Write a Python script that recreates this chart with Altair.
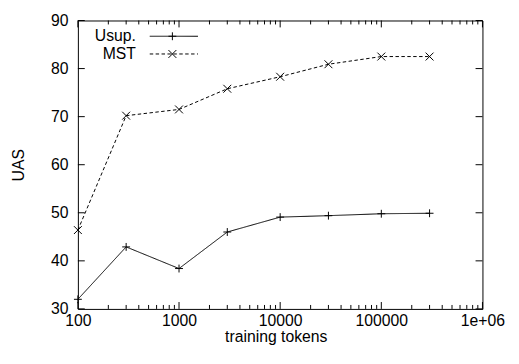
import altair as alt
import pandas as pd

# ---- data ----
tokens = [100, 300, 1000, 3000, 10000, 30000, 100000, 300000]
usup = [32.0, 42.9, 38.4, 46.0, 49.1, 49.4, 49.8, 49.9]
mst = [46.4, 70.2, 71.5, 75.8, 78.3, 80.9, 82.5, 82.5]
series_names = ["Usup.", "MST"]

y_ticks = [30, 40, 50, 60, 70, 80, 90]
x_ticks = [100, 1000, 10000, 100000, 1000000]
x_tick_labels = ["100", "1000", "10000", "100000", "1e+06"]
x_minor = [m * d for d in [100, 1000, 10000, 100000] for m in range(2, 10)]

W, H = 411, 293
FONT = "Liberation Sans"
FS = 16

df = pd.DataFrame({
    "tokens": tokens * 2,
    "uas": usup + mst,
    "series": [series_names[0]] * len(tokens) + [series_names[1]] * len(tokens),
})

xs = alt.Scale(type="log", domain=[100, 1000000], nice=False)
ys = alt.Scale(domain=[30, 90], nice=False, zero=False)

label_expr = "".join(
    f"datum.value == {v} ? '{l}' : " for v, l in zip(x_ticks, x_tick_labels)
) + "''"

dash_scale = alt.Scale(domain=series_names, range=[[1, 0], [3.5, 2.5]])
shape_scale = alt.Scale(
    domain=series_names,
    range=["M-1,0L1,0M0,-1L0,1", "M-1,-1L1,1M-1,1L1,-1"],
)

x_axis = alt.Axis(
    values=x_ticks, labelExpr=label_expr, title="training tokens",
    ticks=False, domain=False, grid=False, labelPadding=4,
    labelFont=FONT, labelFontSize=FS, labelColor="black",
    titleFont=FONT, titleFontSize=FS, titleFontWeight="normal", titleColor="black",
    titleX=201, titleY=33, titleBaseline="alphabetic", titleAlign="center",
    labelFlush=False, labelOverlap=False,
)
y_axis = alt.Axis(
    values=y_ticks, title="UAS",
    ticks=False, domain=False, grid=False, labelPadding=10,
    labelFont=FONT, labelFontSize=FS, labelColor="black",
    titleFont=FONT, titleFontSize=FS, titleFontWeight="normal", titleColor="black",
    titleX=-60, titleY=H / 2, titleBaseline="middle", titleAlign="center", titleAngle=270,
    labelFlush=False, labelOverlap=False,
)

def X(field="tokens"):
    return alt.X(f"{field}:Q", scale=xs, axis=x_axis, title="training tokens")

def Y(field="uas"):
    return alt.Y(f"{field}:Q", scale=ys, axis=y_axis, title="UAS")

lines = alt.Chart(df).mark_line(color="black", strokeWidth=1).encode(
    x=X(), y=Y(),
    strokeDash=alt.StrokeDash("series:N", scale=dash_scale, legend=None),
    detail="series:N",
)

points = alt.Chart(df).mark_point(filled=False, color="black", size=64, strokeWidth=1, opacity=1).encode(
    x=X(), y=Y(),
    shape=alt.Shape("series:N", scale=shape_scale, legend=None),
)

# ---- inward ticks (gnuplot style, mirrored) ----
ydf = pd.DataFrame({"uas": y_ticks})
xdf = pd.DataFrame({"tokens": x_ticks})
xmdf = pd.DataFrame({"tokens": x_minor})

def yrule(x1, x2):
    return alt.Chart(ydf).mark_rule(color="black", strokeWidth=1).encode(
        y=Y(), x=alt.value(x1), x2=alt.value(x2))

def xrule(d, y1, y2):
    return alt.Chart(d).mark_rule(color="black", strokeWidth=1).encode(
        x=X(), y=alt.value(y1), y2=alt.value(y2))

ticks = [
    yrule(0, 7), yrule(W - 7, W),
    xrule(xdf, H - 7, H), xrule(xdf, 0, 7),
    xrule(xmdf, H - 4, H), xrule(xmdf, 0, 4),
]

# ---- legend (top-left, label then sample) ----
leg_y = [16, 34]
leg_layers = []
leg_shapes = ["M-1,0L1,0M0,-1L0,1", "M-1,-1L1,1M-1,1L1,-1"]
leg_dash = [[1, 0], [3.5, 2.5]]
for i, name in enumerate(series_names):
    ld = pd.DataFrame({"series": [name]})
    leg_layers.append(
        alt.Chart(ld).mark_text(align="right", baseline="middle", font=FONT, fontSize=FS, color="black").encode(
            text="series:N", x=alt.value(59), y=alt.value(leg_y[i]))
    )
    leg_layers.append(
        alt.Chart(ld).mark_rule(color="black", strokeWidth=1, strokeDash=leg_dash[i]).encode(
            x=alt.value(73), x2=alt.value(122), y=alt.value(leg_y[i]))
    )
    leg_layers.append(
        alt.Chart(ld).mark_point(filled=False, color="black", size=64, strokeWidth=1, opacity=1,
                                 shape=leg_shapes[i]).encode(
            x=alt.value(96), y=alt.value(leg_y[i]))
    )

chart = alt.layer(lines, points, *ticks, *leg_layers).properties(
    width=W, height=H,
    autosize=alt.AutoSizeParams(type="none"),
    padding={"left": 71, "top": 10, "right": 29, "bottom": 37},
    background="white",
).configure_view(stroke="black", strokeWidth=1)

chart.save("out.html", embed_options={"renderer": "svg", "actions": False})
